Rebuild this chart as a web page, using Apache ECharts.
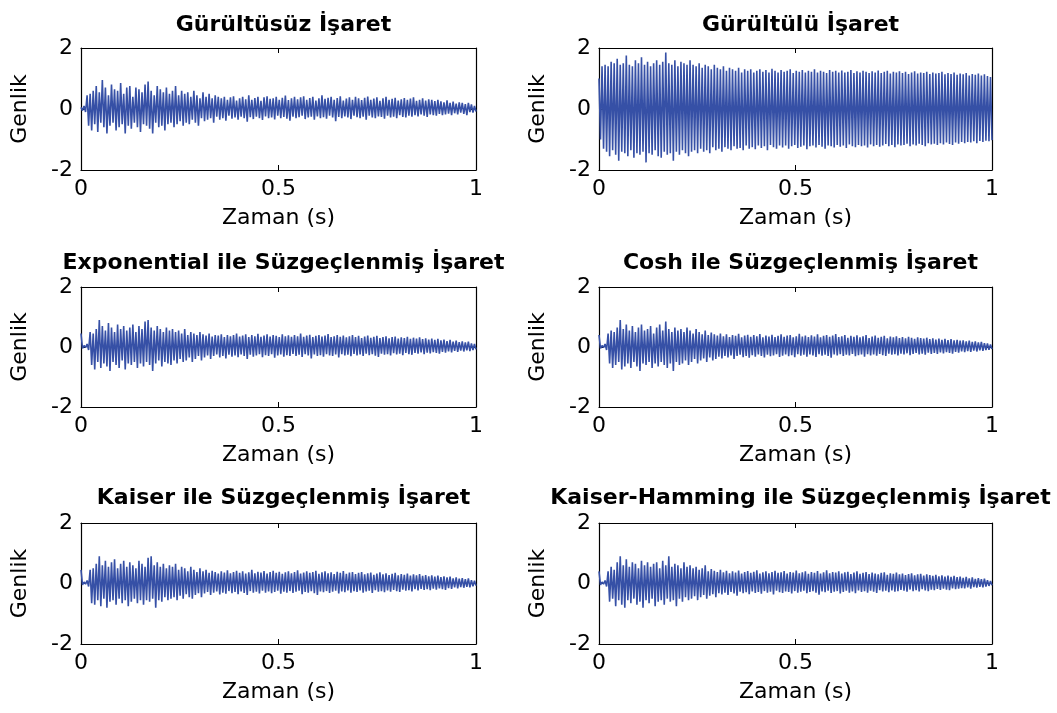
<!DOCTYPE html>
<html>
<head>
<meta charset="utf-8">
<script src="https://cdn.jsdelivr.net/npm/echarts@6/dist/echarts.min.js"></script>
<style>
  html, body { margin: 0; padding: 0; background: #ffffff; }
  #chart { width: 1057px; height: 713px; }
</style>
</head>
<body>
<div id="chart"></div>
<script>
// Panel titles, left to right, top to bottom
const panelTitles = [
  'Gürültüsüz İşaret',
  'Gürültülü İşaret',
  'Exponential ile Süzgeçlenmiş İşaret',
  'Cosh ile Süzgeçlenmiş İşaret',
  'Kaiser ile Süzgeçlenmiş İşaret',
  'Kaiser-Hamming ile Süzgeçlenmiş İşaret'
];
const xAxisName = 'Zaman (s)';
const yAxisName = 'Genlik';

// Each signal is stored as its successive crest and trough values (one pair per cycle)
const cleanUpper = [
  0.05, 0.10, 0.45, 0.50, 0.60, 0.75, 0.55, 0.95, 0.70, 0.45,
  0.80, 0.65, 0.60, 0.85, 0.50, 0.70, 0.75, 0.40, 0.70, 0.65,
  0.55, 0.80, 0.90, 0.60, 0.45, 0.75, 0.65, 0.55, 0.70, 0.50,
  0.60, 0.75, 0.45, 0.60, 0.50, 0.55, 0.40, 0.60, 0.45, 0.35,
  0.55, 0.40, 0.50, 0.35, 0.45, 0.40, 0.35, 0.40, 0.30, 0.38,
  0.42, 0.28, 0.35, 0.40, 0.32, 0.45, 0.30, 0.36, 0.40, 0.27,
  0.38, 0.42, 0.33, 0.35, 0.40, 0.30, 0.37, 0.44, 0.29, 0.35,
  0.40, 0.32, 0.38, 0.42, 0.30, 0.36, 0.40, 0.28, 0.35, 0.45,
  0.33, 0.37, 0.40, 0.30, 0.36, 0.42, 0.28, 0.34, 0.38, 0.30,
  0.40, 0.35, 0.29, 0.37, 0.41, 0.30, 0.34, 0.38, 0.27, 0.35,
  0.40, 0.30, 0.33, 0.37, 0.28, 0.32, 0.36, 0.30, 0.34, 0.38,
  0.27, 0.30, 0.35, 0.28, 0.32, 0.30, 0.26, 0.30, 0.25, 0.22,
  0.28, 0.20, 0.24, 0.18, 0.22, 0.20, 0.16, 0.20, 0.15, 0.10
];
const cleanLower = [
  -0.05, -0.10, -0.55, -0.70, -0.50, -0.75, -0.45, -0.60, -0.80, -0.55,
  -0.45, -0.70, -0.60, -0.50, -0.80, -0.55, -0.65, -0.45, -0.60, -0.75,
  -0.50, -0.55, -0.65, -0.80, -0.45, -0.60, -0.55, -0.70, -0.50, -0.45,
  -0.60, -0.50, -0.40, -0.55, -0.45, -0.50, -0.35, -0.45, -0.55, -0.30,
  -0.40, -0.35, -0.30, -0.45, -0.25, -0.35, -0.30, -0.38, -0.22, -0.32,
  -0.28, -0.35, -0.25, -0.30, -0.42, -0.27, -0.33, -0.25, -0.30, -0.36,
  -0.24, -0.30, -0.28, -0.34, -0.22, -0.30, -0.26, -0.32, -0.38, -0.25,
  -0.30, -0.27, -0.22, -0.33, -0.28, -0.25, -0.35, -0.24, -0.30, -0.27,
  -0.32, -0.22, -0.28, -0.40, -0.26, -0.30, -0.24, -0.28, -0.33, -0.22,
  -0.27, -0.30, -0.25, -0.35, -0.22, -0.28, -0.30, -0.24, -0.26, -0.32,
  -0.22, -0.28, -0.25, -0.30, -0.20, -0.26, -0.28, -0.22, -0.25, -0.20,
  -0.24, -0.18, -0.22, -0.26, -0.18, -0.20, -0.22, -0.16, -0.20, -0.18,
  -0.15, -0.20, -0.14, -0.18, -0.12, -0.16, -0.20, -0.10, -0.12, -0.08
];

const noisyUpper = [
  1.00, 1.40, 1.45, 1.40, 1.55, 1.50, 1.65, 1.45, 1.50, 1.75,
  1.45, 1.40, 1.60, 1.50, 1.70, 1.45, 1.55, 1.40, 1.50, 1.60,
  1.45, 1.55, 1.85, 1.50, 1.45, 1.60, 1.40, 1.55, 1.50, 1.45,
  1.60, 1.45, 1.40, 1.50, 1.35, 1.45, 1.40, 1.30, 1.45, 1.35,
  1.30, 1.40, 1.25, 1.35, 1.30, 1.25, 1.35, 1.20, 1.30, 1.25,
  1.30, 1.20, 1.25, 1.30, 1.22, 1.28, 1.20, 1.32, 1.25, 1.20,
  1.28, 1.22, 1.25, 1.30, 1.18, 1.25, 1.22, 1.28, 1.20, 1.25,
  1.22, 1.30, 1.20, 1.25, 1.22, 1.18, 1.28, 1.22, 1.25, 1.20,
  1.26, 1.20, 1.22, 1.28, 1.18, 1.24, 1.20, 1.25, 1.22, 1.18,
  1.24, 1.20, 1.26, 1.18, 1.22, 1.25, 1.16, 1.22, 1.20, 1.24,
  1.18, 1.22, 1.15, 1.20, 1.24, 1.16, 1.20, 1.18, 1.22, 1.15,
  1.20, 1.16, 1.18, 1.22, 1.14, 1.18, 1.15, 1.20, 1.12, 1.16,
  1.14, 1.18, 1.10, 1.15, 1.12, 1.16, 1.10, 1.14, 1.08, 1.05
];
const noisyLower = [
  -1.00, -1.30, -1.40, -1.55, -1.35, -1.50, -1.70, -1.40, -1.45, -1.55,
  -1.35, -1.60, -1.45, -1.50, -1.40, -1.75, -1.45, -1.50, -1.35, -1.55,
  -1.60, -1.40, -1.50, -1.45, -1.70, -1.40, -1.50, -1.35, -1.45, -1.55,
  -1.40, -1.35, -1.45, -1.30, -1.40, -1.35, -1.45, -1.25, -1.35, -1.30,
  -1.40, -1.25, -1.30, -1.35, -1.22, -1.30, -1.28, -1.35, -1.20, -1.30,
  -1.25, -1.32, -1.20, -1.28, -1.22, -1.35, -1.18, -1.25, -1.30, -1.20,
  -1.26, -1.20, -1.30, -1.22, -1.18, -1.28, -1.24, -1.20, -1.32, -1.22,
  -1.20, -1.26, -1.18, -1.24, -1.30, -1.20, -1.22, -1.26, -1.18, -1.24,
  -1.20, -1.28, -1.16, -1.22, -1.25, -1.18, -1.22, -1.20, -1.26, -1.16,
  -1.22, -1.18, -1.24, -1.20, -1.15, -1.22, -1.18, -1.25, -1.16, -1.20,
  -1.18, -1.14, -1.22, -1.16, -1.20, -1.14, -1.18, -1.22, -1.12, -1.16,
  -1.14, -1.18, -1.12, -1.16, -1.10, -1.15, -1.18, -1.10, -1.14, -1.08,
  -1.12, -1.08, -1.10, -1.06, -1.12, -1.05, -1.08, -1.04, -1.06, -1.02
];

const expUpper = [
  0.45, 0.05, 0.10, 0.50, 0.45, 0.60, 0.90, 0.70, 0.55, 0.80,
  0.65, 0.50, 0.75, 0.60, 0.70, 0.55, 0.65, 0.75, 0.50, 0.70,
  0.60, 0.85, 0.90, 0.65, 0.55, 0.70, 0.60, 0.50, 0.65, 0.55,
  0.60, 0.50, 0.55, 0.45, 0.60, 0.40, 0.50, 0.45, 0.40, 0.50,
  0.42, 0.38, 0.45, 0.35, 0.40, 0.38, 0.42, 0.33, 0.40, 0.36,
  0.40, 0.45, 0.35, 0.38, 0.42, 0.33, 0.40, 0.36, 0.44, 0.34,
  0.38, 0.42, 0.35, 0.40, 0.37, 0.33, 0.42, 0.36, 0.39, 0.34,
  0.40, 0.36, 0.45, 0.34, 0.38, 0.41, 0.33, 0.37, 0.40, 0.35,
  0.38, 0.43, 0.33, 0.36, 0.40, 0.34, 0.38, 0.32, 0.36, 0.40,
  0.33, 0.37, 0.30, 0.35, 0.38, 0.31, 0.34, 0.37, 0.30, 0.33,
  0.36, 0.29, 0.33, 0.35, 0.28, 0.32, 0.30, 0.34, 0.27, 0.31,
  0.28, 0.32, 0.26, 0.29, 0.25, 0.28, 0.24, 0.27, 0.22, 0.25,
  0.20, 0.24, 0.18, 0.21, 0.16, 0.19, 0.15, 0.18, 0.12, 0.10
];
const expLower = [
  -0.05, -0.02, -0.10, -0.60, -0.75, -0.50, -0.70, -0.55, -0.65, -0.80,
  -0.50, -0.60, -0.70, -0.45, -0.75, -0.55, -0.60, -0.50, -0.70, -0.55,
  -0.65, -0.50, -0.60, -0.80, -0.55, -0.45, -0.65, -0.50, -0.55, -0.60,
  -0.45, -0.55, -0.40, -0.50, -0.45, -0.35, -0.50, -0.40, -0.30, -0.45,
  -0.35, -0.28, -0.40, -0.30, -0.25, -0.35, -0.30, -0.38, -0.26, -0.32,
  -0.28, -0.34, -0.25, -0.30, -0.40, -0.26, -0.32, -0.28, -0.24, -0.34,
  -0.27, -0.30, -0.24, -0.36, -0.28, -0.25, -0.32, -0.27, -0.30, -0.23,
  -0.30, -0.26, -0.33, -0.24, -0.28, -0.38, -0.25, -0.30, -0.27, -0.32,
  -0.24, -0.28, -0.30, -0.25, -0.35, -0.24, -0.28, -0.26, -0.31, -0.23,
  -0.28, -0.25, -0.30, -0.22, -0.27, -0.24, -0.29, -0.33, -0.22, -0.26,
  -0.24, -0.28, -0.21, -0.25, -0.22, -0.27, -0.20, -0.24, -0.26, -0.20,
  -0.22, -0.18, -0.24, -0.19, -0.21, -0.17, -0.20, -0.22, -0.16, -0.19,
  -0.15, -0.18, -0.13, -0.16, -0.12, -0.15, -0.11, -0.14, -0.10, -0.08
];

const coshUpper = [
  0.40, 0.05, 0.10, 0.45, 0.55, 0.50, 0.65, 0.90, 0.60, 0.75,
  0.55, 0.70, 0.50, 0.65, 0.75, 0.55, 0.60, 0.70, 0.45, 0.65,
  0.75, 0.55, 0.85, 0.60, 0.50, 0.65, 0.55, 0.60, 0.50, 0.65,
  0.55, 0.45, 0.60, 0.50, 0.42, 0.55, 0.40, 0.48, 0.42, 0.38,
  0.45, 0.36, 0.42, 0.33, 0.40, 0.37, 0.44, 0.32, 0.38, 0.41,
  0.34, 0.40, 0.36, 0.43, 0.32, 0.38, 0.35, 0.41, 0.33, 0.37,
  0.42, 0.34, 0.38, 0.40, 0.32, 0.36, 0.44, 0.35, 0.38, 0.33,
  0.39, 0.35, 0.42, 0.32, 0.37, 0.40, 0.34, 0.38, 0.43, 0.33,
  0.36, 0.40, 0.31, 0.37, 0.34, 0.39, 0.32, 0.36, 0.40, 0.30,
  0.35, 0.38, 0.31, 0.34, 0.37, 0.29, 0.35, 0.32, 0.36, 0.30,
  0.33, 0.29, 0.34, 0.31, 0.27, 0.32, 0.30, 0.28, 0.31, 0.26,
  0.29, 0.25, 0.28, 0.24, 0.27, 0.23, 0.26, 0.22, 0.24, 0.21,
  0.22, 0.19, 0.21, 0.17, 0.19, 0.15, 0.17, 0.13, 0.12, 0.08
];
const coshLower = [
  -0.05, -0.02, -0.10, -0.55, -0.70, -0.60, -0.50, -0.75, -0.65, -0.55,
  -0.70, -0.50, -0.65, -0.80, -0.55, -0.60, -0.50, -0.70, -0.55, -0.65,
  -0.50, -0.60, -0.70, -0.55, -0.80, -0.50, -0.60, -0.55, -0.45, -0.60,
  -0.50, -0.40, -0.55, -0.45, -0.38, -0.50, -0.35, -0.45, -0.40, -0.32,
  -0.38, -0.30, -0.35, -0.28, -0.40, -0.30, -0.26, -0.34, -0.30, -0.36,
  -0.27, -0.32, -0.25, -0.30, -0.35, -0.26, -0.31, -0.28, -0.24, -0.33,
  -0.29, -0.25, -0.31, -0.27, -0.34, -0.24, -0.29, -0.26, -0.32, -0.25,
  -0.28, -0.33, -0.24, -0.29, -0.26, -0.30, -0.36, -0.25, -0.28, -0.24,
  -0.30, -0.26, -0.28, -0.23, -0.31, -0.27, -0.25, -0.32, -0.24, -0.28,
  -0.25, -0.29, -0.23, -0.27, -0.30, -0.22, -0.26, -0.24, -0.28, -0.22,
  -0.25, -0.21, -0.27, -0.23, -0.20, -0.25, -0.22, -0.26, -0.19, -0.23,
  -0.20, -0.23, -0.18, -0.21, -0.17, -0.20, -0.22, -0.16, -0.19, -0.15,
  -0.17, -0.14, -0.16, -0.12, -0.15, -0.11, -0.13, -0.10, -0.09, -0.07
];

const kaiserUpper = [
  0.45, 0.05, 0.10, 0.45, 0.50, 0.65, 0.90, 0.60, 0.75, 0.55,
  0.70, 0.80, 0.50, 0.65, 0.75, 0.55, 0.70, 0.60, 0.50, 0.75,
  0.65, 0.55, 0.85, 0.90, 0.60, 0.70, 0.55, 0.65, 0.50, 0.60,
  0.55, 0.65, 0.45, 0.55, 0.50, 0.40, 0.55, 0.45, 0.38, 0.50,
  0.40, 0.45, 0.35, 0.42, 0.38, 0.33, 0.40, 0.36, 0.44, 0.34,
  0.38, 0.42, 0.35, 0.40, 0.33, 0.37, 0.45, 0.34, 0.39, 0.36,
  0.41, 0.33, 0.38, 0.42, 0.35, 0.39, 0.32, 0.37, 0.40, 0.34,
  0.38, 0.44, 0.33, 0.36, 0.40, 0.35, 0.38, 0.42, 0.32, 0.37,
  0.40, 0.34, 0.37, 0.31, 0.39, 0.35, 0.41, 0.32, 0.36, 0.38,
  0.31, 0.35, 0.38, 0.30, 0.34, 0.36, 0.29, 0.33, 0.37, 0.30,
  0.34, 0.28, 0.32, 0.35, 0.27, 0.31, 0.29, 0.33, 0.26, 0.30,
  0.27, 0.31, 0.25, 0.28, 0.24, 0.27, 0.23, 0.26, 0.21, 0.24,
  0.20, 0.23, 0.17, 0.20, 0.16, 0.18, 0.14, 0.17, 0.11, 0.09
];
const kaiserLower = [
  -0.05, -0.02, -0.10, -0.65, -0.70, -0.55, -0.75, -0.50, -0.80, -0.60,
  -0.55, -0.70, -0.50, -0.65, -0.55, -0.75, -0.60, -0.50, -0.65, -0.55,
  -0.70, -0.55, -0.60, -0.50, -0.80, -0.55, -0.60, -0.45, -0.55, -0.50,
  -0.45, -0.55, -0.40, -0.50, -0.35, -0.45, -0.50, -0.38, -0.32, -0.45,
  -0.33, -0.28, -0.38, -0.30, -0.26, -0.36, -0.30, -0.34, -0.25, -0.32,
  -0.28, -0.35, -0.26, -0.31, -0.38, -0.25, -0.30, -0.27, -0.33, -0.24,
  -0.30, -0.26, -0.32, -0.28, -0.24, -0.34, -0.27, -0.30, -0.25, -0.31,
  -0.27, -0.24, -0.35, -0.28, -0.30, -0.25, -0.32, -0.38, -0.26, -0.29,
  -0.25, -0.31, -0.27, -0.24, -0.33, -0.26, -0.29, -0.23, -0.30, -0.25,
  -0.28, -0.23, -0.30, -0.26, -0.24, -0.31, -0.22, -0.27, -0.25, -0.29,
  -0.23, -0.27, -0.21, -0.25, -0.28, -0.20, -0.24, -0.22, -0.26, -0.19,
  -0.23, -0.18, -0.21, -0.19, -0.22, -0.17, -0.20, -0.16, -0.19, -0.21,
  -0.15, -0.18, -0.13, -0.16, -0.12, -0.14, -0.11, -0.13, -0.09, -0.07
];

const kaiserHammingUpper = [
  0.40, 0.05, 0.10, 0.40, 0.55, 0.45, 0.70, 0.90, 0.60, 0.80,
  0.55, 0.70, 0.65, 0.50, 0.75, 0.60, 0.70, 0.55, 0.65, 0.70,
  0.50, 0.75, 0.60, 0.90, 0.55, 0.65, 0.60, 0.50, 0.70, 0.55,
  0.60, 0.50, 0.55, 0.45, 0.50, 0.60, 0.40, 0.48, 0.42, 0.38,
  0.45, 0.37, 0.42, 0.34, 0.40, 0.36, 0.43, 0.33, 0.38, 0.41,
  0.35, 0.39, 0.44, 0.33, 0.37, 0.40, 0.34, 0.38, 0.42, 0.35,
  0.37, 0.41, 0.33, 0.38, 0.36, 0.43, 0.34, 0.37, 0.40, 0.32,
  0.38, 0.35, 0.41, 0.33, 0.37, 0.44, 0.34, 0.38, 0.36, 0.40,
  0.33, 0.37, 0.39, 0.31, 0.36, 0.40, 0.32, 0.35, 0.38, 0.31,
  0.36, 0.33, 0.30, 0.35, 0.37, 0.29, 0.34, 0.32, 0.36, 0.30,
  0.33, 0.28, 0.31, 0.34, 0.27, 0.30, 0.32, 0.26, 0.30, 0.28,
  0.25, 0.29, 0.24, 0.27, 0.23, 0.26, 0.22, 0.25, 0.21, 0.23,
  0.19, 0.22, 0.17, 0.20, 0.15, 0.18, 0.14, 0.16, 0.11, 0.08
];
const kaiserHammingLower = [
  -0.05, -0.02, -0.10, -0.60, -0.50, -0.75, -0.55, -0.70, -0.80, -0.55,
  -0.65, -0.50, -0.70, -0.60, -0.80, -0.55, -0.65, -0.50, -0.75, -0.60,
  -0.55, -0.70, -0.50, -0.60, -0.55, -0.75, -0.50, -0.60, -0.45, -0.55,
  -0.50, -0.42, -0.55, -0.45, -0.38, -0.50, -0.40, -0.35, -0.45, -0.32,
  -0.36, -0.30, -0.38, -0.28, -0.33, -0.40, -0.27, -0.32, -0.29, -0.35,
  -0.26, -0.31, -0.28, -0.34, -0.25, -0.30, -0.27, -0.36, -0.24, -0.29,
  -0.31, -0.26, -0.28, -0.33, -0.25, -0.30, -0.27, -0.24, -0.32, -0.28,
  -0.25, -0.30, -0.37, -0.26, -0.29, -0.24, -0.31, -0.27, -0.25, -0.33,
  -0.28, -0.24, -0.30, -0.26, -0.32, -0.23, -0.28, -0.25, -0.30, -0.24,
  -0.27, -0.31, -0.22, -0.26, -0.24, -0.29, -0.23, -0.27, -0.25, -0.21,
  -0.24, -0.27, -0.20, -0.25, -0.22, -0.26, -0.19, -0.23, -0.25, -0.20,
  -0.22, -0.18, -0.21, -0.17, -0.20, -0.22, -0.16, -0.19, -0.17, -0.15,
  -0.16, -0.13, -0.17, -0.12, -0.14, -0.11, -0.13, -0.10, -0.08, -0.06
];

const signalPairs = [
  [cleanUpper, cleanLower],
  [noisyUpper, noisyLower],
  [expUpper, expLower],
  [coshUpper, coshLower],
  [kaiserUpper, kaiserLower],
  [kaiserHammingUpper, kaiserHammingLower]
];

// Merge crest/trough lists into one sample sequence and spread it over 0..1 s
function toSamples(upper, lower) {
  const seq = [];
  const n = Math.min(upper.length, lower.length);
  for (let i = 0; i < n; i++) { seq.push(upper[i], lower[i]); }
  const last = seq.length - 1;
  return seq.map((v, i) => [i / last, v]);
}

const lineColor = '#3650a6';
const textFont = 'DejaVu Sans';
const columns = [ { left: 81, width: 395 }, { left: 599, width: 393 } ];
const rowsLayout = [
  { top: 48, height: 122, titleTop: 9 },
  { top: 287, height: 120, titleTop: 247 },
  { top: 523, height: 121, titleTop: 482 }
];

const grids = [], xAxes = [], yAxes = [], series = [], titles = [];

panelTitles.forEach((name, i) => {
  const col = columns[i % 2];
  const row = rowsLayout[Math.floor(i / 2)];
  grids.push({ left: col.left, top: row.top, width: col.width, height: row.height,
               show: false, containLabel: false });
  titles.push({
    text: name, left: col.left + col.width / 2, top: row.titleTop, textAlign: 'center',
    textStyle: { fontFamily: textFont, fontWeight: 'bold', fontSize: 22, color: '#000' }
  });
  const tickStyle = { show: true, inside: true, length: 5, lineStyle: { color: '#000', width: 1 } };
  const lineStyle = { show: true, onZero: false, lineStyle: { color: '#000', width: 1.2 } };
  xAxes.push({
    gridIndex: i, type: 'value', position: 'bottom', min: 0, max: 1, interval: 0.5,
    axisLine: lineStyle, axisTick: tickStyle, splitLine: { show: false },
    axisLabel: { color: '#000', fontFamily: textFont, fontSize: 22, margin: 8 },
    name: xAxisName, nameLocation: 'middle', nameGap: 37,
    nameTextStyle: { color: '#000', fontFamily: textFont, fontSize: 22 }
  });
  xAxes.push({
    gridIndex: i, type: 'value', position: 'top', min: 0, max: 1, interval: 0.5,
    axisLine: lineStyle, axisTick: tickStyle, splitLine: { show: false },
    axisLabel: { show: false }
  });
  yAxes.push({
    gridIndex: i, type: 'value', position: 'left', min: -2, max: 2, interval: 2,
    axisLine: lineStyle, axisTick: tickStyle, splitLine: { show: false },
    axisLabel: { color: '#000', fontFamily: textFont, fontSize: 22, margin: 8 },
    name: yAxisName, nameLocation: 'middle', nameGap: 50,
    nameTextStyle: { color: '#000', fontFamily: textFont, fontSize: 22 }
  });
  yAxes.push({
    gridIndex: i, type: 'value', position: 'right', min: -2, max: 2, interval: 2,
    axisLine: lineStyle, axisTick: tickStyle, splitLine: { show: false },
    axisLabel: { show: false }
  });
  const [up, low] = signalPairs[i];
  series.push({
    type: 'line', xAxisIndex: 2 * i, yAxisIndex: 2 * i,
    data: toSamples(up, low), showSymbol: false, symbol: 'none', sampling: false,
    lineStyle: { color: lineColor, width: 1.6 }, silent: true, clip: true
  });
});

const chart = echarts.init(document.getElementById('chart'), null, { renderer: 'canvas' });
chart.setOption({
  backgroundColor: '#ffffff',
  animation: false,
  title: titles,
  grid: grids,
  xAxis: xAxes,
  yAxis: yAxes,
  series: series
});
</script>
</body>
</html>
